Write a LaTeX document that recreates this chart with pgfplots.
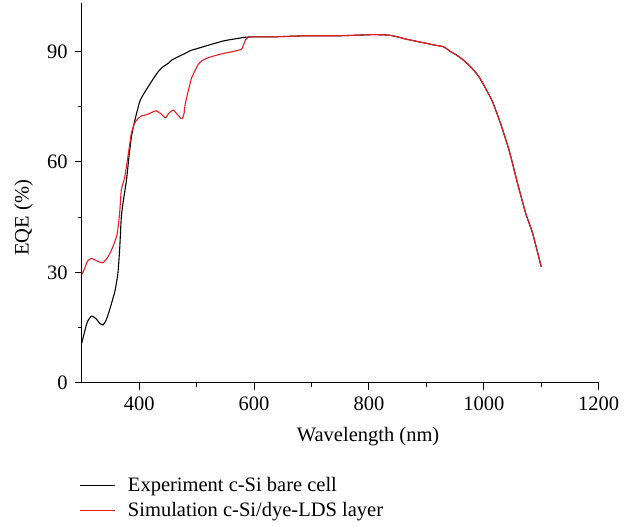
\documentclass[border=0pt]{standalone}
\usepackage{pgfplots}
\pgfplotsset{compat=1.18}
\usepackage{fontspec}
\setmainfont{Liberation Serif}
\begin{document}
\fontsize{20.5bp}{24bp}\selectfont
\begin{tikzpicture}
\useasboundingbox (0,0) rectangle (634bp,527bp);
\begin{axis}[
  at={(81.7bp,144.3bp)}, anchor=south west,
  scale only axis, width=517bp, height=379.7bp,
  xmin=300, xmax=1200, ymin=0, ymax=103.2,
  axis lines*=left,
  axis line style={line width=1pt},
  tick align=outside,
  major tick length=7bp, minor tick length=4bp,
  every tick/.style={black, line width=0.9pt},
  xtick={400,600,800,1000,1200},
  ytick={0,30,60,90},
  minor tick num=1,
  /pgf/number format/assume math mode=true,
  /pgf/number format/1000 sep={},
  ticklabel style={font=\fontsize{20.5bp}{24bp}\selectfont},
  xlabel={Wavelength (nm)},
  ylabel={EQE (\%)},
  xlabel style={at={(axis description cs:0.554,0)}, anchor=center, yshift=-54bp},
  ylabel style={at={(axis description cs:-0.1122,0.434)}, anchor=center},
  label style={font=\fontsize{20.5bp}{24bp}\selectfont},
  legend style={at={(axis description cs:0,0)}, anchor=north west, yshift=-92bp, xshift=-2bp,
    draw=none, fill=none, font=\fontsize{20.5bp}{24bp}\selectfont,
    row sep=4bp, column sep=10bp, inner sep=0pt},
  legend cell align=left,
  legend image code/.code={\draw[#1] (0bp,0bp) -- (35bp,0bp);},
  every axis plot/.append style={line width=1.1pt, no markers, smooth, tension=0.3},
]
\addplot[black] coordinates {
(300,10.7)(305,13.8)(310,16.6)(317,18.1)(325,17.4)(331,16.2)(337,15.7)(342,16.8)(347,19)(352,21.6)(358,25)(363,29.7)(366,36)(369,45.1)(373,50)(378,55.1)(382,61)(386.5,66.8)(392,71)(401,76.4)(408,78.5)(415.6,80.4)(425,82.7)(433,84.5)(441,85.8)(450.5,86.8)(457,87.7)(468,88.6)(480,89.5)(490,90.3)(503,90.9)(520,91.7)(547,92.9)(565,93.4)(585,93.9)(600,94.0)(634,94.0)(692,94.3)(750,94.3)(808,94.6)(838,94.4)(867,93.3)(895,92.4)(913,91.8)(930,91.3)(942,90.0)(950,89.3)(962,88)(977,85.9)(990,83.5)(1000,80.9)(1015,76.4)(1029,70.5)(1044,63.2)(1058,54.6)(1073,46.0)(1085,40.6)(1100,31.5)
};
\addlegendentry{Experiment c-Si bare cell}
\addplot[color={rgb,255:red,230;green,30;blue,35}] coordinates {
(300,29.3)(305,31)(310,33)(317,33.8)(325,33.2)(331,32.8)(337,32.6)(345,34)(352,36.1)(358,38.5)(362,40.6)(366,46)(369,52.4)(375,56.0)(381,62)(386.5,67.8)(392,70.5)(398,71.8)(404,72.5)(412,72.8)(418.6,73.2)(425,73.7)(430,73.9)(437,73.2)(445.8,72.0)(452,73.3)(459.2,74.1)(466,73)(472,71.9)(475,71.8)(478,73)(480,75.5)(485,79)(491,82.7)(495,84.1)(502.8,86.5)(510,87.6)(518,88.2)(530,88.8)(547,89.5)(560,89.9)(578,90.6)(581,91.5)(585,93.1)(590,93.9)(600,94.0)(634,94.0)(692,94.3)(750,94.3)(808,94.6)(838,94.4)(867,93.3)(895,92.4)(913,91.8)(930,91.3)(942,90.0)(950,89.3)(962,88)(977,85.9)(990,83.5)(1000,80.9)(1015,76.4)(1029,70.5)(1044,63.2)(1058,54.6)(1073,46.0)(1085,40.6)(1100,31.5)
};
\addlegendentry{Simulation c-Si/dye-LDS layer}
\end{axis}
\end{tikzpicture}
\end{document}
